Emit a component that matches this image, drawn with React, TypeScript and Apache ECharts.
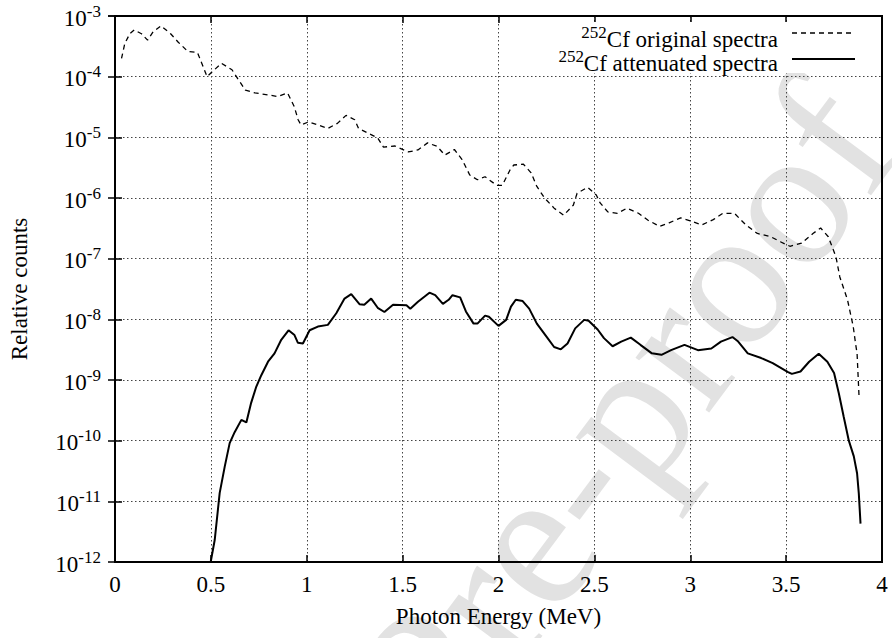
import React, { useEffect, useRef } from "react";
import * as echarts from "echarts";

// Photon energy (MeV) and relative counts
const originalEnergy = [
  0.034, 0.051, 0.077, 0.1, 0.138, 0.17, 0.199, 0.24, 0.29, 0.33, 0.38, 0.43, 0.46, 0.48, 0.5,
  0.555, 0.61, 0.64, 0.68, 0.73, 0.8, 0.85, 0.9, 0.935, 0.955, 0.97, 1.01, 1.06, 1.11, 1.16,
  1.205, 1.25, 1.27, 1.32, 1.37, 1.4, 1.46, 1.53, 1.58, 1.63, 1.68, 1.72, 1.77, 1.81, 1.85,
  1.89, 1.93, 1.99, 2.02, 2.06, 2.08, 2.13, 2.17, 2.2, 2.24, 2.29, 2.34, 2.39, 2.41, 2.465,
  2.51, 2.53, 2.57, 2.62, 2.67, 2.73, 2.78, 2.84, 2.89, 2.95, 3.0, 3.06, 3.12, 3.17, 3.23,
  3.29, 3.35, 3.42, 3.47, 3.52, 3.58, 3.64, 3.68, 3.72, 3.76, 3.78, 3.82, 3.85, 3.862, 3.87, 3.88,
];
const originalCounts = [
  2.0e-4, 3.5e-4, 5.1e-4, 5.9e-4, 5.1e-4, 4.0e-4, 5.5e-4, 6.9e-4, 5.1e-4, 3.7e-4, 2.6e-4, 2.5e-4, 1.45e-4, 1.0e-4, 1.15e-4,
  1.66e-4, 1.3e-4, 9.3e-5, 6.0e-5, 5.4e-5, 5.0e-5, 4.7e-5, 5.4e-5, 3.2e-5, 1.95e-5, 1.6e-5, 1.8e-5, 1.6e-5, 1.4e-5, 1.7e-5,
  2.3e-5, 1.95e-5, 1.4e-5, 1.17e-5, 9.8e-6, 6.9e-6, 7.2e-6, 5.75e-6, 6.2e-6, 8.1e-6, 7.1e-6, 5.1e-6, 6.3e-6, 4.3e-6, 2.4e-6,
  2.0e-6, 2.24e-6, 1.62e-6, 1.62e-6, 2.9e-6, 3.5e-6, 3.6e-6, 2.6e-6, 1.55e-6, 1.0e-6, 6.8e-7, 5.2e-7, 7.6e-7, 1.2e-6, 1.5e-6,
  1.12e-6, 8.3e-7, 5.9e-7, 5.6e-7, 6.8e-7, 5.6e-7, 4.3e-7, 3.4e-7, 3.9e-7, 4.7e-7, 4.2e-7, 3.6e-7, 4.4e-7, 5.6e-7, 5.6e-7,
  3.6e-7, 2.6e-7, 2.3e-7, 1.9e-7, 1.6e-7, 1.8e-7, 2.6e-7, 3.2e-7, 2.3e-7, 1.07e-7, 5.0e-8, 2.1e-8, 7.6e-9, 4.0e-9, 2.75e-9, 5.6e-10,
];

const attenuatedEnergy = [
  0.499, 0.52, 0.546, 0.572, 0.598, 0.624, 0.659, 0.685, 0.71, 0.737, 0.763, 0.798, 0.832, 0.867, 0.905,
  0.936, 0.954, 0.98, 1.015, 1.058, 1.11, 1.154, 1.197, 1.232, 1.275, 1.3, 1.336, 1.37, 1.405, 1.45,
  1.52, 1.54, 1.58, 1.64, 1.67, 1.71, 1.74, 1.76, 1.8, 1.83, 1.87, 1.89, 1.93, 1.95, 2.0,
  2.04, 2.065, 2.09, 2.126, 2.16, 2.2, 2.256, 2.29, 2.325, 2.36, 2.4, 2.447, 2.47, 2.517, 2.55,
  2.595, 2.64, 2.69, 2.74, 2.8, 2.85, 2.9, 2.97, 3.04, 3.11, 3.16, 3.22, 3.25, 3.3, 3.37,
  3.43, 3.51, 3.53, 3.575, 3.62, 3.67, 3.715, 3.75, 3.775, 3.8, 3.827, 3.853, 3.87, 3.879, 3.888,
];
const attenuatedCounts = [
  1.0e-12, 2.3e-12, 1.38e-11, 3.7e-11, 9.1e-11, 1.38e-10, 2.2e-10, 2.0e-10, 4.2e-10, 7.8e-10, 1.2e-9, 2.0e-9, 2.75e-9, 4.6e-9, 6.6e-9,
  5.5e-9, 4.1e-9, 4.0e-9, 6.6e-9, 7.6e-9, 8.1e-9, 1.26e-8, 2.2e-8, 2.6e-8, 1.78e-8, 1.74e-8, 2.2e-8, 1.55e-8, 1.32e-8, 1.74e-8,
  1.7e-8, 1.5e-8, 1.95e-8, 2.75e-8, 2.5e-8, 1.8e-8, 2.1e-8, 2.5e-8, 2.3e-8, 1.35e-8, 8.5e-9, 8.5e-9, 1.15e-8, 1.1e-8, 7.8e-9,
  9.8e-9, 1.62e-8, 2.1e-8, 2.0e-8, 1.5e-8, 8.5e-9, 4.9e-9, 3.5e-9, 3.2e-9, 4.0e-9, 7.1e-9, 9.8e-9, 9.5e-9, 6.8e-9, 4.9e-9,
  3.6e-9, 4.3e-9, 5.0e-9, 3.8e-9, 2.75e-9, 2.6e-9, 3.1e-9, 3.8e-9, 3.1e-9, 3.3e-9, 4.3e-9, 5.1e-9, 4.3e-9, 2.75e-9, 2.3e-9,
  1.9e-9, 1.35e-9, 1.26e-9, 1.38e-9, 2.0e-9, 2.7e-9, 2.0e-9, 1.3e-9, 6.0e-10, 2.5e-10, 1.0e-10, 5.5e-11, 2.9e-11, 1.35e-11, 4.3e-12,
];

const isotope = "252";
const seriesNames = ["Cf original spectra", "Cf attenuated spectra"];
const xAxisTitle = "Photon Energy (MeV)";
const yAxisTitle = "Relative counts";
const watermark = "Journal Pre-proof";

const FONT = "'Liberation Serif', 'Times New Roman', serif";

const richStyles = {
  b: { fontFamily: FONT, fontSize: 23, color: "#000", verticalAlign: "bottom" },
  s: { fontFamily: FONT, fontSize: 17, color: "#000", verticalAlign: "bottom", padding: [0, 0, 10, 0] },
};

export default function App() {
  const ref = useRef<HTMLDivElement>(null);

  useEffect(() => {
    if (!ref.current) return;
    const chart = echarts.init(ref.current, undefined, { renderer: "svg" });
    const origData = originalEnergy.map((e, i) => [e, originalCounts[i]]);
    const attData = attenuatedEnergy.map((e, i) => [e, attenuatedCounts[i]]);

    const option: any = {
      animation: false,
      backgroundColor: "#fff",
      grid: {
        left: 113,
        right: 10,
        top: 16,
        bottom: 76,
        show: true,
        borderColor: "#000",
        borderWidth: 2,
        backgroundColor: "transparent",
        z: 4,
      },
      xAxis: [
        {
          type: "value",
          position: "bottom",
          min: 0,
          max: 4,
          interval: 0.5,
          name: xAxisTitle,
          nameLocation: "middle",
          nameGap: 43,
          nameTextStyle: { fontFamily: FONT, fontSize: 23, color: "#000" },
          axisLine: { show: false },
          axisTick: { show: true, inside: true, length: 7, lineStyle: { color: "#000", width: 1.5 } },
          axisLabel: {
            fontFamily: FONT,
            fontSize: 23,
            color: "#000",
            margin: 11,
            formatter: (v: number) => String(v),
          },
          splitLine: { show: true, lineStyle: { color: "#444", width: 1, type: [1.5, 2.5] } },
        },
        {
          type: "value",
          position: "top",
          min: 0,
          max: 4,
          interval: 0.5,
          axisLine: { show: false },
          axisTick: { show: true, inside: true, length: 7, lineStyle: { color: "#000", width: 1.5 } },
          axisLabel: { show: false },
          splitLine: { show: false },
        },
      ],
      yAxis: [
        {
          type: "log",
          logBase: 10,
          min: 1e-12,
          max: 1e-3,
          splitNumber: 9,
          position: "left",
          name: yAxisTitle,
          nameLocation: "middle",
          nameGap: 84,
          nameRotate: 90,
          nameTextStyle: { fontFamily: FONT, fontSize: 23, color: "#000" },
          axisLine: { show: false },
          axisTick: { show: true, inside: true, length: 7, lineStyle: { color: "#000", width: 1.5 } },
          axisLabel: {
            margin: 14,
            showMinLabel: true,
            showMaxLabel: true,
            formatter: (v: number) => `{b|10}{s|${Math.round(Math.log10(v))}}`,
            rich: richStyles,
          },
          splitLine: { show: true, lineStyle: { color: "#444", width: 1, type: [1.5, 2.5] } },
        },
        {
          type: "log",
          logBase: 10,
          min: 1e-12,
          max: 1e-3,
          splitNumber: 9,
          position: "right",
          axisLine: { show: false },
          axisTick: { show: true, inside: true, length: 7, lineStyle: { color: "#000", width: 1.5 } },
          axisLabel: { show: false },
          splitLine: { show: false },
        },
      ],
      series: [
        {
          name: isotope + seriesNames[0],
          type: "line",
          xAxisIndex: 0,
          yAxisIndex: 0,
          data: origData,
          showSymbol: false,
          symbol: "none",
          lineStyle: { color: "#000", width: 1.3, type: [5, 4] },
          z: 5,
          silent: true,
        },
        {
          name: isotope + seriesNames[1],
          type: "line",
          xAxisIndex: 0,
          yAxisIndex: 0,
          data: attData,
          showSymbol: false,
          symbol: "none",
          lineStyle: { color: "#000", width: 2 },
          z: 5,
          silent: true,
        },
      ],
      graphic: [
        {
          type: "text",
          x: 932,
          y: 168,
          rotation: 0.93,
          z: -1,
          silent: true,
          style: {
            text: watermark,
            font: `200px ${FONT}`,
            fill: "#e2e2e2",
            align: "right",
            verticalAlign: "bottom",
            textAlign: "right",
            textVerticalAlign: "bottom",
          },
        },
        {
          type: "rect",
          z: 3,
          silent: true,
          shape: { x: 553, y: 22, width: 322, height: 51 },
          style: { fill: "#fff" },
        },
        {
          type: "text",
          x: 778,
          y: 37,
          z: 6,
          style: {
            text: `{s|${isotope}}{b|${seriesNames[0]}}`,
            rich: richStyles,
            align: "right",
            verticalAlign: "middle",
            textAlign: "right",
            textVerticalAlign: "middle",
          },
        },
        {
          type: "line",
          z: 6,
          shape: { x1: 792, y1: 33, x2: 855, y2: 33 },
          style: { stroke: "#000", lineWidth: 1.3, lineDash: [5, 4] },
        },
        {
          type: "text",
          x: 778,
          y: 61,
          z: 6,
          style: {
            text: `{s|${isotope}}{b|${seriesNames[1]}}`,
            rich: richStyles,
            align: "right",
            verticalAlign: "middle",
            textAlign: "right",
            textVerticalAlign: "middle",
          },
        },
        {
          type: "line",
          z: 6,
          shape: { x1: 792, y1: 59, x2: 855, y2: 59 },
          style: { stroke: "#000", lineWidth: 2 },
        },
      ],
    };

    chart.setOption(option);
    return () => chart.dispose();
  }, []);

  return <div ref={ref} style={{ width: 892, height: 638, position: "absolute", left: 0, top: 0 }} />;
}
